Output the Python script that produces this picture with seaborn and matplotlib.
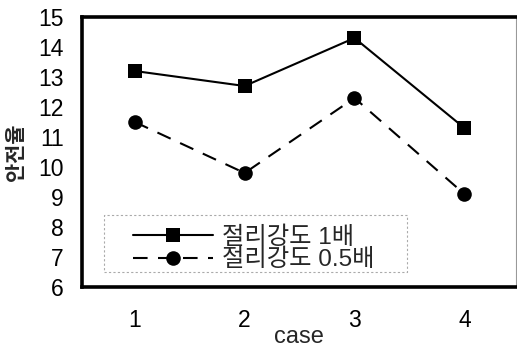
import matplotlib
matplotlib.use("Agg")
import matplotlib.pyplot as plt
from matplotlib.patches import Rectangle
import seaborn as sns
import pandas as pd

cases = [1, 2, 3, 4]
strength_1x = [13.2, 12.7, 14.3, 11.3]
strength_05x = [11.5, 9.8, 12.3, 9.1]
series_names = ["절리강도 1배", "절리강도 0.5배"]
y_ticks = [6, 7, 8, 9, 10, 11, 12, 13, 14, 15]

sns.set_theme(style="white")
plt.rcParams["font.family"] = ["Liberation Sans", "Noto Sans CJK KR", "DejaVu Sans"]

df = pd.DataFrame({
    "case": cases * 2,
    "value": strength_1x + strength_05x,
    "series": [series_names[0]] * len(cases) + [series_names[1]] * len(cases),
})

fig = plt.figure(figsize=(5.17, 3.47), dpi=100)
ax = fig.add_axes([82 / 517, 60 / 347, 434 / 517, 270 / 347])

sns.lineplot(
    data=df, x="case", y="value", hue="series", style="series",
    palette={series_names[0]: "black", series_names[1]: "black"},
    markers={series_names[0]: "s", series_names[1]: "o"},
    dashes={series_names[0]: "", series_names[1]: (7, 5)},
    markersize=10.5, markeredgewidth=0, linewidth=1.5, ax=ax,
)

ax.set_xlim(0.52, 4.47)
ax.set_ylim(6, 15)
ax.set_xticks(cases)
ax.set_yticks(y_ticks)
ax.tick_params(axis="both", length=0, labelsize=16.5, colors="black")
ax.tick_params(axis="x", pad=16)
ax.tick_params(axis="y", pad=13)

for side in ["left", "top", "bottom"]:
    ax.spines[side].set_linewidth(2.6)
    ax.spines[side].set_color("black")
ax.spines["right"].set_linewidth(0.8)
ax.spines["right"].set_color("#999999")

ax.set_xlabel("case", fontsize=17)
ax.xaxis.set_label_coords(0.5, (287 - 343) / 270)
ax.xaxis.label.set_va("baseline")
ax.set_ylabel("안전율", fontsize=15, fontweight="bold",
              family=["Noto Sans CJK KR"])
ax.yaxis.set_label_coords((26 - 82) / 434, 0.5)

# dotted legend box
ax.add_patch(Rectangle((0.05, 0.056), 0.698, 0.21, transform=ax.transAxes,
                       fill=False, edgecolor="#aaaaaa", linewidth=0.8,
                       linestyle=(0, (2, 2)), zorder=1))

handles, labels = ax.get_legend_handles_labels()
leg = ax.legend(
    handles, labels, loc="lower left",
    bbox_to_anchor=((133 - 82) / 434, 0.059),
    fontsize=17.5, handlelength=3.3, handletextpad=0.37,
    borderpad=0, borderaxespad=0, labelspacing=0.0, frameon=False,
)

fig.savefig("out.png", dpi=100)
